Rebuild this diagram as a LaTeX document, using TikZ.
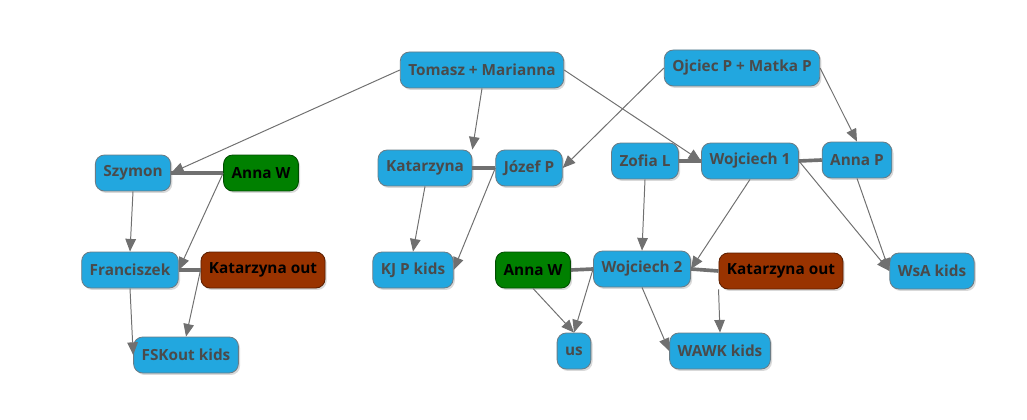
\documentclass[tikz,border=0pt]{standalone}
\usepackage{fontspec}
\setmainfont{Open Sans}
\usepackage{tikz}
\usetikzlibrary{arrows.meta,shadows}
\definecolor{Ink}{HTML}{4A4A4A}
\definecolor{Edge}{HTML}{707070}
\definecolor{Blue}{HTML}{22A7DF}
\definecolor{BlueLine}{HTML}{6A7C86}
\definecolor{Green}{HTML}{008000}
\definecolor{Brown}{HTML}{993300}
\tikzset{person/.style={rounded corners=6.5pt,draw=BlueLine,fill=Blue,text=Ink,line width=.6pt,minimum height=25.6pt,inner xsep=5.7pt,font=\fontsize{10.9}{12}\selectfont\bfseries,drop shadow={shadow xshift=1.2pt,shadow yshift=-1.4pt,opacity=.3}},wife/.style={person,fill=Green,draw=Green!60!black,text=black},exwife/.style={person,fill=Brown,draw=Brown!60!black,text=black},child/.style={-{Triangle[length=9pt,width=7.5pt]},line width=.7pt,draw=Edge},wed/.style={line width=2.6pt,draw=Edge}}

\begin{document}
\begin{tikzpicture}[x=.025cm,y=-.025cm]
        \useasboundingbox (0,0) rectangle (1027,420);
        % parents
        \node[person] (tm) at (482,70){Tomasz + Marianna};
        \node[person] (op) at (742,68){Ojciec P + Matka P};
        % second row
        \node[person] (sz) at (133,173){Szymon};
        \node[wife] (aw1) at (261,173){Anna W};
        \node[person] (kat) at (425,168){Katarzyna};
        \node[person] (jp) at (529,168){Józef P};
        \node[person] (zl) at (645,161){Zofia L};
        \node[person] (w1) at (750,161){Wojciech 1};
        \node[person] (ap) at (857,160){Anna P};
        % third row
        \node[person] (fr) at (130,270){Franciszek};
        \node[exwife] (kol) at (263,270){Katarzyna out};
        \node[person] (kjp) at (413,270){KJ P kids};
        \node[wife] (aw2) at (533,270){Anna W};
        \node[person] (w2) at (642,269){Wojciech 2};
        \node[exwife] (kor) at (781,271){Katarzyna out};
        \node[person] (wsa) at (932,271){WsA kids};
        % kids
        \node[person] (fsk) at (186,355){FSKout kids};
        \node[person] (us) at (574,351){us};
        \node[person] (wawk) at (720,351){WAWK kids};
        % marriages
        \draw[wed] (sz.east)--(aw1.west);
        \draw[wed] (fr.east)--(kol.west);
        \draw[wed] (kat.east)--(jp.west);
        \draw[wed] (zl.east)--(w1.west);
        \draw[wed] (w1.east)--(ap.west);
        \draw[wed] (aw2.east)--(w2.west);
        \draw[wed] (w2.east)--(kor.west);
        % descent
        \draw[child] (tm.west)--(sz.east);
        \draw[child] (tm.south)--(kat.north east);
        \draw[child] (tm.east)--(w1.west);
        \draw[child] (op.west)--(jp.east);
        \draw[child] (op.east)--(ap.north);
        \draw[child] (sz.south)--(fr.north);
        \draw[child] (aw1.west)--(fr.east);
        \draw[child] (fr.south)--(fsk.west);
        \draw[child] (kol.west)--(fsk.north);
        \draw[child] (kat.south)--(kjp.north);
        \draw[child] (jp.west)--(kjp.east);
        \draw[child] (zl.south)--(w2.north);
        \draw[child] (w1.south)--(w2.east);
        \draw[child] (w1.east)--(wsa.west);
        \draw[child] (ap.south)--(wsa.west);
        \draw[child] (aw2.south)--(us.north);
        \draw[child] (w2.west)--(us.north);
        \draw[child] (w2.south)--(wawk.west);
        \draw[child] (kor.south west)--(wawk.north);
      \end{tikzpicture}
\end{document}
